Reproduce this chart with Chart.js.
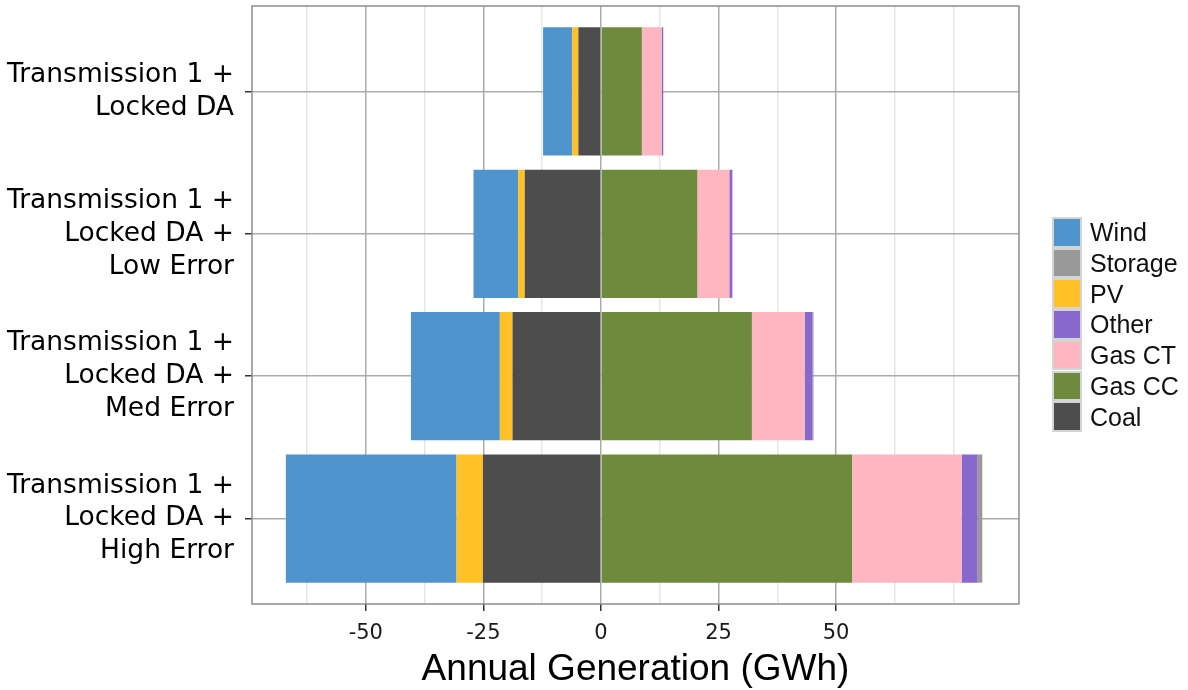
<!DOCTYPE html>
<html>
<head>
<meta charset="utf-8">
<script src="https://cdn.jsdelivr.net/npm/chart.js@4.4.1/dist/chart.umd.min.js"></script>
<style>
  body { margin: 0; background: #fff; }
  #wrap { position: relative; width: 1188px; height: 690px; }
  #legend { position: absolute; left: 1052px; top: 217px; font-family: "Liberation Sans", Arial, sans-serif; font-size: 25px; color: #111; }
  .row { position: absolute; left: 0; width: 134px; height: 30.7px; white-space: nowrap; }
  .key { position: absolute; left: 0; top: 0; width: 26px; height: 26.7px; border: 2px solid #d4d4d4; }
  .lbl { position: absolute; left: 38px; top: 50%; transform: translateY(-50%); line-height: 1; }
</style>
</head>
<body>
<div id="wrap">
  <canvas id="chart-gen"></canvas>
  <div id="legend"></div>
</div>
<script>
// data
var categories = [
  ["Transmission 1 +", "Locked DA"],
  ["Transmission 1 +", "Locked DA +", "Low Error"],
  ["Transmission 1 +", "Locked DA +", "Med Error"],
  ["Transmission 1 +", "Locked DA +", "High Error"]
];
var coal    = [-4.8, -16.2, -18.8, -25.1];
var pv      = [-1.3, -1.4, -2.7, -5.6];
var wind    = [-6.2, -9.5, -18.9, -36.3];
var gasCC   = [8.7, 20.5, 32.1, 53.4];
var gasCT   = [4.2, 6.8, 11.2, 23.3];
var other   = [0.35, 0.65, 1.7, 3.4];
var storage = [0, 0, 0.2, 1.0];

var xTicks = [-62.5, -50, -37.5, -25, -12.5, 0, 12.5, 25, 37.5, 50, 62.5, 75];
var xLabels = [-50, -25, 0, 25, 50];
var legendOrder = ["Wind", "Storage", "PV", "Other", "Gas CT", "Gas CC", "Coal"];

// stacking order: nearest to zero first
var series = [
  { name: "Coal", values: coal, color: "#4d4d4d" },
  { name: "Gas CC", values: gasCC, color: "#6e8b3d" },
  { name: "PV", values: pv, color: "#ffc125" },
  { name: "Gas CT", values: gasCT, color: "#ffb6c1" },
  { name: "Wind", values: wind, color: "#4f94cd" },
  { name: "Other", values: other, color: "#8968cd" },
  { name: "Storage", values: storage, color: "#999999" }
];

var datasets = series.map(function (s) {
  return {
    label: s.name,
    data: s.values.map(function (v, i) { return { x: v, y: i }; }),
    backgroundColor: s.color,
    borderWidth: 0,
    barPercentage: 0.9,
    categoryPercentage: 1
  };
});

// panel border drawn over grid
var panelBorder = {
  id: "panelBorder",
  afterDatasetsDraw: function (chart) {
    var a = chart.chartArea, c = chart.ctx;
    c.save();
    c.strokeStyle = "#8c8c8c";
    c.lineWidth = 1.5;
    c.strokeRect(a.left, a.top, a.right - a.left, a.bottom - a.top);
    c.restore();
  }
};

var ctx = document.getElementById("chart-gen").getContext("2d");

new Chart(ctx, {
  type: "bar",
  data: { datasets: datasets },
  plugins: [panelBorder],
  options: {
    indexAxis: "y",
    responsive: true,
    maintainAspectRatio: false,
    animation: false,
    layout: { padding: { top: 6, right: 169, left: 0, bottom: 0 } },
    plugins: {
      legend: { display: false },
      tooltip: { enabled: false }
    },
    scales: {
      x: {
        type: "linear",
        stacked: true,
        min: -74.2,
        max: 88.9,
        afterBuildTicks: function (scale) {
          scale.ticks = xTicks.map(function (v) { return { value: v }; });
        },
        afterFit: function (scale) {
          scale.height = 86;
          scale.paddingLeft = 0;
          scale.paddingRight = 0;
        },
        border: { display: false },
        grid: {
          lineWidth: 1.5,
          tickLength: 7,
          tickWidth: 1.5,
          color: function (c) {
            return xLabels.indexOf(c.tick.value) >= 0 ? "#ababab" : "#e6e6e6";
          },
          tickColor: function (c) {
            return xLabels.indexOf(c.tick.value) >= 0 ? "#333333" : "rgba(0,0,0,0)";
          }
        },
        ticks: {
          autoSkip: false,
          maxRotation: 0,
          padding: 10,
          color: "#1a1a1a",
          font: { family: "DejaVu Sans", size: 21 },
          callback: function (v) {
            return xLabels.indexOf(v) >= 0 ? String(v) : "";
          }
        },
        title: {
          display: true,
          text: "Annual Generation (GWh)",
          color: "#000",
          padding: { top: 0, bottom: 0 },
          font: { family: "Liberation Sans", size: 37, lineHeight: 1.1 }
        }
      },
      y: {
        type: "linear",
        stacked: true,
        reverse: true,
        offset: false,
        min: -0.6,
        max: 3.6,
        afterBuildTicks: function (scale) {
          scale.ticks = categories.map(function (c, i) { return { value: i }; });
        },
        afterFit: function (scale) {
          scale.width = 252;
          scale.paddingTop = 0;
          scale.paddingBottom = 0;
        },
        border: { display: false },
        grid: {
          offset: false,
          color: "#ababab",
          lineWidth: 1.5,
          tickLength: 7,
          tickWidth: 1.5,
          tickColor: "#333333"
        },
        ticks: {
          autoSkip: false,
          padding: 11,
          color: "#000",
          font: { family: "DejaVu Sans", size: 26.5, lineHeight: 1.24 },
          callback: function (v) { return categories[v]; }
        }
      }
    }
  }
});

// legend
var legendEl = document.getElementById("legend");
legendOrder.forEach(function (name, i) {
  var s = series.filter(function (d) { return d.name === name; })[0];
  var row = document.createElement("div");
  row.className = "row";
  row.style.top = (i * 30.7) + "px";
  var key = document.createElement("div");
  key.className = "key";
  key.style.background = s.color;
  var lbl = document.createElement("div");
  lbl.className = "lbl";
  lbl.textContent = name;
  row.appendChild(key);
  row.appendChild(lbl);
  legendEl.appendChild(row);
});
</script>
</body>
</html>
